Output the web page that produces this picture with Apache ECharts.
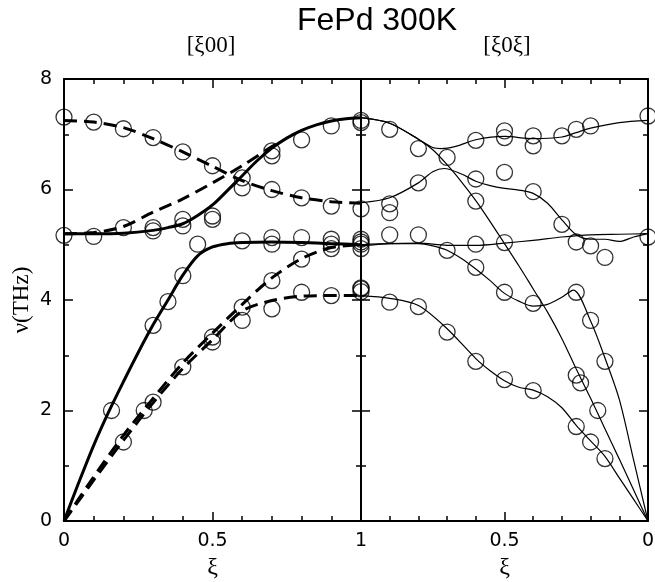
<!DOCTYPE html>
<html>
<head>
<meta charset="utf-8">
<script src="https://cdn.jsdelivr.net/npm/echarts@6/dist/echarts.min.js"></script>
<style>
  html, body { margin: 0; padding: 0; background: #fff; }
  #chart { width: 655px; height: 582px; }
</style>
</head>
<body>
<div id="chart"></div>
<script>
// Phonon dispersion of FePd at 300 K: frequency nu (THz) against reduced wave vector xi.
// Left panel: [xi 0 0] from 0 to 1. Right panel: [xi 0 xi] from 1 back to 0.

// ---- tick labels ----
const xTickLabels100 = { 0: '0', 0.5: '0.5', 1: '1' };
const xTickLabels101 = { 0.5: '0.5', 0: '0' };
const yTickLabels = { 0: '0', 2: '2', 4: '4', 6: '6', 8: '8' };

// ---- [xi00] model curves, [xi, nu] ----
const lo100 = [[0,5.2],[0.1,5.2],[0.2,5.21],[0.3,5.26],[0.35,5.31],[0.4,5.38],[0.45,5.53],[0.5,5.72],[0.55,5.98],[0.6,6.25],[0.65,6.52],[0.7,6.75],[0.75,6.93],[0.8,7.07],[0.85,7.17],[0.9,7.24],[0.95,7.28],[1,7.3]];
const la100 = [[0,0],[0.05,0.7],[0.1,1.37],[0.15,1.97],[0.2,2.52],[0.25,3.05],[0.3,3.55],[0.35,4.0],[0.4,4.45],[0.45,4.8],[0.5,4.96],[0.55,5.02],[0.6,5.04],[0.7,5.05],[0.8,5.04],[0.9,5.02],[1,5.0]];
const toHigh100 = [[0,7.25],[0.1,7.22],[0.2,7.12],[0.3,6.92],[0.4,6.68],[0.5,6.42],[0.6,6.16],[0.7,5.98],[0.8,5.85],[0.9,5.78],[1,5.75]];
const toRise100 = [[0,5.2],[0.1,5.22],[0.2,5.33],[0.3,5.59],[0.4,5.83],[0.5,6.12],[0.6,6.43],[0.7,6.78],[0.72,6.84]];
const ta1_100 = [[0,0],[0.1,0.8],[0.2,1.55],[0.3,2.22],[0.4,2.86],[0.5,3.4],[0.6,3.92],[0.7,4.4],[0.8,4.75],[0.9,4.95],[1,5.0]];
const ta2_100 = [[0,0],[0.1,0.74],[0.2,1.46],[0.3,2.14],[0.4,2.76],[0.5,3.28],[0.6,3.8],[0.7,3.99],[0.8,4.07],[0.9,4.08],[1,4.08]];

// ---- [xi0xi] model curves, [xi, nu] ----
const branchA101 = [[1,7.3],[0.9,7.2],[0.8,6.91],[0.75,6.72],[0.7,6.45],[0.65,6.14],[0.6,5.8],[0.55,5.42],[0.5,5.02],[0.45,4.62],[0.4,4.2],[0.35,3.78],[0.3,3.3],[0.25,2.75],[0.2,2.22],[0.15,1.67],[0.1,1.12],[0.05,0.56],[0,0]];
const branchB101 = [[1,7.3],[0.9,7.2],[0.8,6.91],[0.75,6.76],[0.72,6.74],[0.67,6.78],[0.6,6.9],[0.5,6.96],[0.4,6.92],[0.3,6.95],[0.25,7.03],[0.2,7.11],[0.1,7.21],[0,7.25]];
const branchC101 = [[1,5.76],[0.9,5.85],[0.8,6.12],[0.75,6.32],[0.71,6.38],[0.65,6.28],[0.6,6.15],[0.55,6.07],[0.5,6.02],[0.45,5.99],[0.4,5.93],[0.35,5.75],[0.3,5.45],[0.25,5.18],[0.2,5.1],[0.15,5.1],[0.1,5.06],[0.05,5.14],[0,5.2]];
const branchD101 = [[1,4.98],[0.9,5.02],[0.8,5.03],[0.7,4.99],[0.6,4.99],[0.5,5.03],[0.4,5.08],[0.3,5.14],[0.2,5.18],[0.1,5.19],[0,5.2]];
const branchE101 = [[1,4.08],[0.9,4.03],[0.8,3.9],[0.7,3.48],[0.6,2.94],[0.55,2.72],[0.5,2.54],[0.45,2.42],[0.4,2.37],[0.35,2.25],[0.3,2.05],[0.25,1.73],[0.2,1.45],[0.15,1.17],[0.1,0.78],[0.05,0.39],[0,0]];
const branchF101 = [[1,5.0],[0.9,5.02],[0.8,5.02],[0.75,4.98],[0.7,4.9],[0.65,4.75],[0.6,4.56],[0.55,4.35],[0.5,4.12],[0.45,3.98],[0.4,3.89],[0.35,3.92],[0.3,4.05],[0.26,4.18],[0.2,3.62],[0.15,2.95],[0.1,2.2],[0.05,1.1],[0,0]];

// ---- measured frequencies ----
const measured100 = [
  [0,7.31],[0.1,7.22],[0.2,7.1],[0.3,6.94],[0.4,6.68],[0.5,6.43],[0.6,6.21],[0.6,6.03],[0.7,6.0],[0.8,5.85],[0.9,5.7],[1,5.65],
  [0.7,6.7],[0.7,6.61],[0.8,6.9],[0.9,7.15],[1,7.21],
  [0,5.17],[0.1,5.15],[0.2,5.31],[0.3,5.31],[0.3,5.25],[0.4,5.46],[0.4,5.34],[0.5,5.52],[0.5,5.46],
  [0.45,5.01],[0.6,5.07],[0.7,5.13],[0.7,5.01],[0.8,5.13],[0.9,5.1],[0.9,5.01],[0.9,4.93],[1,5.1],[1,5.01],[1,4.93],
  [0.8,4.74],[0.7,4.35],[0.6,3.87],[0.7,3.84],[0.8,4.14],[0.9,4.08],[1,4.2],[1,4.15],
  [0.4,4.44],[0.35,3.97],[0.3,3.54],[0.16,2.0],[0.5,3.33],[0.5,3.24],[0.6,3.63],[0.4,2.79],[0.3,2.15],[0.27,2.0],[0.2,1.43]
];
const measured101 = [
  [1,7.25],[0.9,7.09],[0.8,6.74],[0.7,6.58],[0.6,6.89],[0.5,7.06],[0.5,6.94],[0.4,6.97],[0.4,6.79],[0.3,6.97],[0.25,7.09],[0.2,7.15],[0,7.33],
  [0.8,6.12],[0.6,6.19],[0.5,6.31],[0.4,5.96],[0.6,5.79],[0.9,5.74],[0.9,5.58],[0.3,5.37],
  [1,5.05],[0.9,5.18],[0.8,5.18],[0.7,4.9],[0.6,5.01],[0.5,5.04],[0.25,5.05],[0.2,4.98],[0.15,4.77],[0,5.14],
  [0.6,4.59],[0.5,4.14],[0.4,3.94],[0.25,4.14],[1,4.22],[0.9,3.96],[0.8,3.88],[0.2,3.63],
  [0.7,3.42],[0.6,2.89],[0.5,2.56],[0.4,2.36],[0.15,2.89],[0.25,2.64],[0.235,2.5],[0.175,2.0],[0.25,1.71],[0.2,1.43],[0.15,1.13]
];

// ---- styling ----
const SANS = 'Liberation Sans, Arial, sans-serif';
const TICKFONT = 'DejaVu Sans, Liberation Sans, sans-serif';
const SERIF = 'Liberation Serif, Times New Roman, serif';
const INK = '#000';

function frameAxis(extra) {
  return Object.assign({
    type: 'value',
    axisLine: { show: true, onZero: false, lineStyle: { color: INK, width: 2 } },
    axisTick: { show: true, inside: true, length: 9, lineStyle: { color: INK, width: 1.5 } },
    splitLine: { show: false },
    minorSplitLine: { show: false },
    axisLabel: { show: false }
  }, extra);
}

const xCommon = { min: 0, max: 1, interval: 0.5, minorTick: { show: true, splitNumber: 5, length: 5, lineStyle: { color: INK, width: 1.5 } } };
const yCommon = { min: 0, max: 8, interval: 2, minorTick: { show: true, splitNumber: 2, length: 5, lineStyle: { color: INK, width: 1.5 } } };
const xTickText = { show: true, margin: 11, fontSize: 19, color: INK, fontFamily: TICKFONT };
const yTickText = { show: true, margin: 12, fontSize: 19, color: INK, fontFamily: TICKFONT };

const xAxes = [
  frameAxis(Object.assign({}, xCommon, {
    gridIndex: 0, position: 'bottom',
    axisLabel: Object.assign({}, xTickText, { formatter: v => (xTickLabels100[v] !== undefined ? xTickLabels100[v] : '') }),
    name: 'ξ', nameLocation: 'middle', nameGap: 33,
    nameTextStyle: { fontFamily: SERIF, fontSize: 24, color: INK }
  })),
  frameAxis(Object.assign({}, xCommon, { gridIndex: 0, position: 'top' })),
  frameAxis(Object.assign({}, xCommon, {
    gridIndex: 1, position: 'bottom', inverse: true,
    axisLabel: Object.assign({}, xTickText, { formatter: v => (xTickLabels101[v] !== undefined ? xTickLabels101[v] : '') }),
    name: 'ξ', nameLocation: 'middle', nameGap: 33,
    nameTextStyle: { fontFamily: SERIF, fontSize: 24, color: INK }
  })),
  frameAxis(Object.assign({}, xCommon, { gridIndex: 1, position: 'top', inverse: true }))
];

const yAxes = [
  frameAxis(Object.assign({}, yCommon, {
    gridIndex: 0, position: 'left',
    axisLabel: Object.assign({}, yTickText, { formatter: v => (yTickLabels[v] !== undefined ? yTickLabels[v] : '') }),
    name: 'ν(THz)', nameLocation: 'middle', nameGap: 31,
    nameTextStyle: { fontFamily: SERIF, fontSize: 23, color: INK }
  })),
  frameAxis(Object.assign({}, yCommon, { gridIndex: 0, position: 'right' })),
  frameAxis(Object.assign({}, yCommon, { gridIndex: 1, position: 'left' })),
  frameAxis(Object.assign({}, yCommon, { gridIndex: 1, position: 'right' }))
];

function curve(data, panel, dashed, width) {
  return {
    type: 'line',
    data: data,
    xAxisIndex: panel === 0 ? 0 : 2,
    yAxisIndex: panel === 0 ? 0 : 2,
    showSymbol: false,
    smooth: 0.3,
    silent: true,
    lineStyle: { color: INK, width: width, type: dashed ? [13, 7] : 'solid', cap: 'butt' },
    z: 2
  };
}

function points(data, panel) {
  return {
    type: 'scatter',
    data: data,
    xAxisIndex: panel === 0 ? 0 : 2,
    yAxisIndex: panel === 0 ? 0 : 2,
    symbol: 'circle',
    symbolSize: 16,
    silent: true,
    clip: false,
    itemStyle: { color: 'rgba(0,0,0,0)', borderColor: INK, borderWidth: 1.3 },
    z: 3
  };
}

const chart = echarts.init(document.getElementById('chart'), null, { renderer: 'canvas' });
chart.setOption({
  animation: false,
  backgroundColor: '#fff',
  title: {
    text: 'FePd 300K',
    left: 372, top: 0, textAlign: 'center',
    textStyle: { fontFamily: SANS, fontSize: 32, fontWeight: 'normal', color: INK }
  },
  graphic: [
    { type: 'text', x: 211, y: 46, style: { text: '[ξ00]', font: '23px ' + SERIF, fill: INK, align: 'center', verticalAlign: 'middle' } },
    { type: 'text', x: 507, y: 46, style: { text: '[ξ0ξ]', font: '23px ' + SERIF, fill: INK, align: 'center', verticalAlign: 'middle' } }
  ],
  grid: [
    { left: 64, top: 79, width: 297, height: 442, outerBoundsMode: 'none' },
    { left: 361, top: 79, width: 287, height: 442, outerBoundsMode: 'none' }
  ],
  xAxis: xAxes,
  yAxis: yAxes,
  series: [
    curve(lo100, 0, false, 3),
    curve(la100, 0, false, 3),
    curve(toHigh100, 0, true, 3),
    curve(toRise100, 0, true, 3),
    curve(ta1_100, 0, true, 3),
    curve(ta2_100, 0, true, 3),
    curve(branchA101, 1, false, 1.2),
    curve(branchB101, 1, false, 1.2),
    curve(branchC101, 1, false, 1.2),
    curve(branchD101, 1, false, 1.2),
    curve(branchE101, 1, false, 1.2),
    curve(branchF101, 1, false, 1.2),
    points(measured100, 0),
    points(measured101, 1)
  ]
});
</script>
</body>
</html>
